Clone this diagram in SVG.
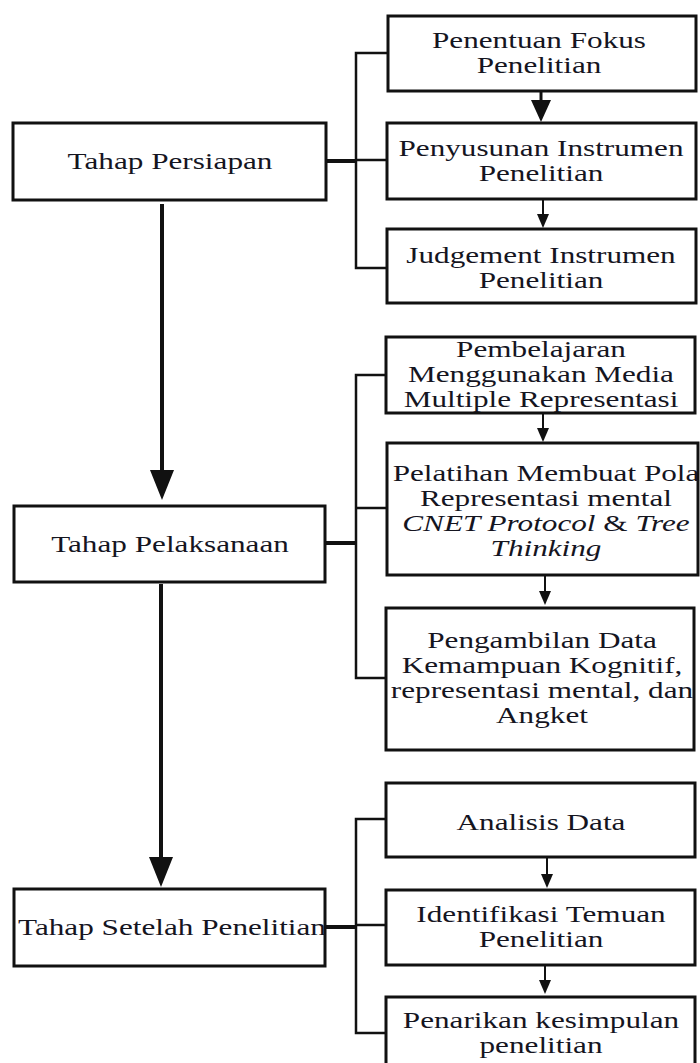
<svg xmlns="http://www.w3.org/2000/svg" width="700" height="1063" viewBox="0 0 700 1063">
<style>
.box{fill:#fff;stroke:#111;stroke-width:3}
.t{font-family:"Liberation Serif","Times New Roman",serif;font-size:24px;fill:#15151f;text-anchor:middle}
.i{font-style:italic}
.n{font-style:normal}
.br{fill:none;stroke:#111;stroke-width:2.5}
.stub{fill:none;stroke:#111;stroke-width:4}
.main{stroke:#111;stroke-width:4}
.sm{stroke:#111;stroke-width:2}
.md{stroke:#111;stroke-width:3}
</style>
<defs>
<marker id="mBig" viewBox="0 0 30 24" refX="10" refY="12" markerWidth="30" markerHeight="24" markerUnits="userSpaceOnUse" orient="auto"><path d="M0,0 L30,12 L0,24 Z" fill="#111"/></marker>
<marker id="mMid" viewBox="0 0 22 20" refX="6" refY="10" markerWidth="22" markerHeight="20" markerUnits="userSpaceOnUse" orient="auto"><path d="M0,0 L22,10 L0,20 Z" fill="#111"/></marker>
<marker id="mSm" viewBox="0 0 14 12" refX="4" refY="6" markerWidth="14" markerHeight="12" markerUnits="userSpaceOnUse" orient="auto"><path d="M0,0 L14,6 L0,12 Z" fill="#111"/></marker>
</defs>
<rect width="700" height="1063" fill="#fff"/>

<g id="connectors">
<polyline class="br" points="387,53 356,53 356,268 387,268"/>
<line class="br" x1="356" y1="160" x2="387" y2="160"/>
<line class="stub" x1="326" y1="161" x2="356" y2="161"/>
<polyline class="br" points="386,375 356,375 356,678 386,678"/>
<line class="br" x1="356" y1="508" x2="386" y2="508"/>
<line class="stub" x1="326" y1="543" x2="356" y2="543"/>
<polyline class="br" points="386,819 356,819 356,1033 386,1033"/>
<line class="br" x1="356" y1="925" x2="386" y2="925"/>
<line class="stub" x1="326" y1="927" x2="356" y2="927"/>
<line class="main" x1="162" y1="204" x2="162" y2="480" marker-end="url(#mBig)"/>
<line class="main" x1="161" y1="584" x2="161" y2="867" marker-end="url(#mBig)"/>
<line class="md" x1="541" y1="91" x2="541" y2="106" marker-end="url(#mMid)"/>
<line class="sm" x1="543" y1="199" x2="543" y2="218" marker-end="url(#mSm)"/>
<line class="sm" x1="543" y1="413" x2="543" y2="432" marker-end="url(#mSm)"/>
<line class="sm" x1="545" y1="575" x2="545" y2="595" marker-end="url(#mSm)"/>
<line class="sm" x1="547" y1="857" x2="547" y2="878" marker-end="url(#mSm)"/>
<line class="sm" x1="545" y1="965" x2="545" y2="984" marker-end="url(#mSm)"/>
</g>

<g id="n-persiapan">
<rect class="box" x="13" y="123" width="313" height="77"/>
<g transform="translate(170,0) scale(1.3,1)"><text class="t" x="0" y="169">Tahap Persiapan</text></g>
</g>
<g id="n-pelaksanaan">
<rect class="box" x="14" y="506" width="311" height="76"/>
<g transform="translate(170,0) scale(1.3,1)"><text class="t" x="0" y="552">Tahap Pelaksanaan</text></g>
</g>
<g id="n-setelah">
<rect class="box" x="14" y="889" width="311" height="77"/>
<g transform="translate(172,0) scale(1.3,1)"><text class="t" x="0" y="935">Tahap Setelah Penelitian</text></g>
</g>

<g id="n-fokus">
<rect class="box" x="388" y="16" width="308" height="75"/>
<g transform="translate(539,0) scale(1.3,1)"><text class="t" x="0" y="48">Penentuan Fokus</text><text class="t" x="0" y="73">Penelitian</text></g>
</g>
<g id="n-penyusunan">
<rect class="box" x="387" y="123" width="309" height="76"/>
<g transform="translate(541,0) scale(1.3,1)"><text class="t" x="0" y="156">Penyusunan Instrumen</text><text class="t" x="0" y="181">Penelitian</text></g>
</g>
<g id="n-judgement">
<rect class="box" x="387" y="229" width="309" height="74"/>
<g transform="translate(541,0) scale(1.3,1)"><text class="t" x="0" y="263">Judgement Instrumen</text><text class="t" x="0" y="288">Penelitian</text></g>
</g>
<g id="n-pembelajaran">
<rect class="box" x="386" y="337" width="309" height="76"/>
<g transform="translate(541,0) scale(1.3,1)"><text class="t" x="0" y="357">Pembelajaran</text><text class="t" x="0" y="382">Menggunakan Media</text><text class="t" x="0" y="407">Multiple Representasi</text></g>
</g>
<g id="n-pelatihan">
<rect class="box" x="387" y="443" width="311" height="132"/>
<g transform="translate(546,0) scale(1.3,1)"><text class="t" x="0" y="481">Pelatihan Membuat Pola</text><text class="t" x="0" y="506">Representasi mental</text><text class="t i" x="0" y="531">CNET Protocol <tspan class="n">&amp;</tspan> Tree</text><text class="t i" x="0" y="556">Thinking</text></g>
</g>
<g id="n-pengambilan">
<rect class="box" x="386" y="608" width="308" height="142"/>
<g transform="translate(542,0) scale(1.3,1)"><text class="t" x="0" y="648">Pengambilan Data</text><text class="t" x="0" y="673">Kemampuan Kognitif,</text><text class="t" x="0" y="698">representasi mental, dan</text><text class="t" x="0" y="723">Angket</text></g>
</g>
<g id="n-analisis">
<rect class="box" x="386" y="783" width="309" height="74"/>
<g transform="translate(541,0) scale(1.3,1)"><text class="t" x="0" y="830">Analisis Data</text></g>
</g>
<g id="n-identifikasi">
<rect class="box" x="386" y="890" width="309" height="75"/>
<g transform="translate(541,0) scale(1.3,1)"><text class="t" x="0" y="922">Identifikasi Temuan</text><text class="t" x="0" y="947">Penelitian</text></g>
</g>
<g id="n-penarikan">
<rect class="box" x="386" y="997" width="309" height="75"/>
<g transform="translate(541,0) scale(1.3,1)"><text class="t" x="0" y="1028">Penarikan kesimpulan</text><text class="t" x="0" y="1053">penelitian</text></g>
</g>
</svg>
